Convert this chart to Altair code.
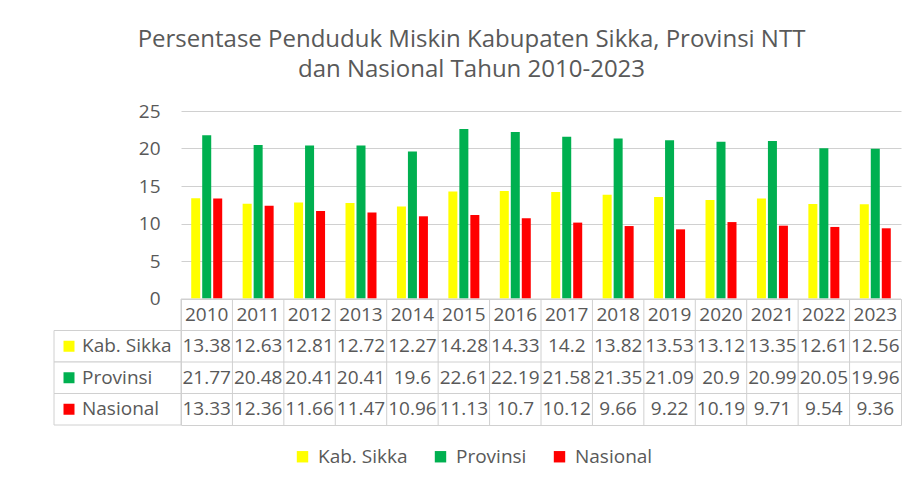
import altair as alt
import pandas as pd

years = ["2010", "2011", "2012", "2013", "2014", "2015", "2016",
         "2017", "2018", "2019", "2020", "2021", "2022", "2023"]
series = ["Kab. Sikka", "Provinsi", "Nasional"]
sikka = [13.38, 12.63, 12.81, 12.72, 12.27, 14.28, 14.33, 14.2, 13.82, 13.53, 13.12, 13.35, 12.61, 12.56]
provinsi = [21.77, 20.48, 20.41, 20.41, 19.6, 22.61, 22.19, 21.58, 21.35, 21.09, 20.9, 20.99, 20.05, 19.96]
nasional = [13.33, 12.36, 11.66, 11.47, 10.96, 11.13, 10.7, 10.12, 9.66, 9.22, 10.19, 9.71, 9.54, 9.36]
colors = ["#FFFF00", "#00B050", "#FF0000"]
y_ticks = [0, 5, 10, 15, 20, 25]
title_lines = ["Persentase Penduduk Miskin Kabupaten Sikka, Provinsi NTT",
               "dan Nasional Tahun 2010-2023"]

FONT = "Open Sans"
GREY = "#595959"
LINE = "#d0d0d0"

rows = []
for s, vals in zip(series, [sikka, provinsi, nasional]):
    for y, v in zip(years, vals):
        rows.append({"year": y, "series": s, "row": s, "value": v, "label": f"{v:g}"})
df = pd.DataFrame(rows)

header = pd.DataFrame({"year": years, "row": "Tahun", "label": years})
table_df = pd.concat([header, df[["year", "row", "label"]]], ignore_index=True)
row_domain = ["Tahun"] + series
lab_df = pd.DataFrame({"row": series, "series": series})
vlines_df = pd.DataFrame({"year": years})
hlines_df = pd.DataFrame({"row": row_domain})

color_scale = alt.Scale(domain=series, range=colors)
color_enc = alt.Color(
    "series:N", scale=color_scale, sort=series,
    legend=alt.Legend(
        title=None, orient="none", legendX=112, legendY=336, direction="horizontal",
        symbolType="square", symbolSize=130, symbolStrokeWidth=0,
        labelFont=FONT, labelFontSize=19, labelColor=GREY,
        columnPadding=23, labelOffset=6,
    ),
)

bars = alt.Chart(df).mark_bar().encode(
    x=alt.X("year:N", sort=years, axis=None,
            scale=alt.Scale(paddingInner=0, paddingOuter=0)),
    xOffset=alt.XOffset("series:N", sort=series,
                        scale=alt.Scale(domain=series, paddingInner=0.18, paddingOuter=0.93)),
    y=alt.Y("value:Q", scale=alt.Scale(domain=[0, 25]),
            axis=alt.Axis(values=y_ticks, title=None, grid=True, gridColor=LINE,
                          domain=False, ticks=False, labelFont=FONT, labelFontSize=19,
                          labelColor=GREY, labelPadding=21)),
    color=color_enc,
).properties(width=720, height=187.5, view=alt.ViewBackground(strokeWidth=0))

x_scale = alt.Scale(domain=years, paddingInner=0, paddingOuter=0)
y_scale = alt.Scale(domain=row_domain, paddingInner=0, paddingOuter=0)

vlines = alt.Chart(vlines_df).mark_rule(color=LINE, strokeWidth=1).encode(
    x=alt.X("year:N", sort=years, scale=x_scale, axis=None, bandPosition=0),
)
hlines = alt.Chart(hlines_df).mark_rule(color=LINE, strokeWidth=1).encode(
    y=alt.Y("row:N", scale=y_scale, axis=None, bandPosition=0),
)
cells = alt.Chart(lab_df).mark_rect(fill="white", stroke=LINE, strokeWidth=1).encode(
    x=alt.value(-127), x2=alt.value(0),
    y=alt.Y("row:N", scale=y_scale, axis=None),
)
squares = alt.Chart(lab_df).mark_square(size=121, filled=True, opacity=1).encode(
    x=alt.value(-112),
    y=alt.Y("row:N", scale=y_scale, axis=None),
    color=color_enc,
)
lab_text = alt.Chart(lab_df).mark_text(align="left", baseline="middle", font=FONT,
                                       fontSize=19, color=GREY).encode(
    x=alt.value(-99),
    y=alt.Y("row:N", scale=y_scale, axis=None),
    text="row:N",
)
values = alt.Chart(table_df).mark_text(baseline="middle", font=FONT, fontSize=19,
                                       color=GREY).encode(
    x=alt.X("year:N", sort=years, scale=x_scale, axis=None),
    y=alt.Y("row:N", scale=y_scale, axis=None),
    text="label:N",
)
table = alt.layer(vlines, hlines, cells, squares, lab_text, values).properties(
    width=720, height=126,
    view=alt.ViewBackground(stroke=LINE, strokeWidth=1),
)

chart = alt.vconcat(bars, table, spacing=0, bounds="flush").properties(
    title=alt.TitleParams(title_lines, font=FONT, fontSize=24, fontWeight="normal",
                          color=GREY, anchor="middle", lineHeight=30, offset=20, dx=-6),
    padding={"left": 45, "top": 20, "right": 5, "bottom": 5},
).resolve_scale(color="shared").configure_view(strokeWidth=0)

chart.save("out.html", embed_options={"renderer": "svg", "actions": False})
